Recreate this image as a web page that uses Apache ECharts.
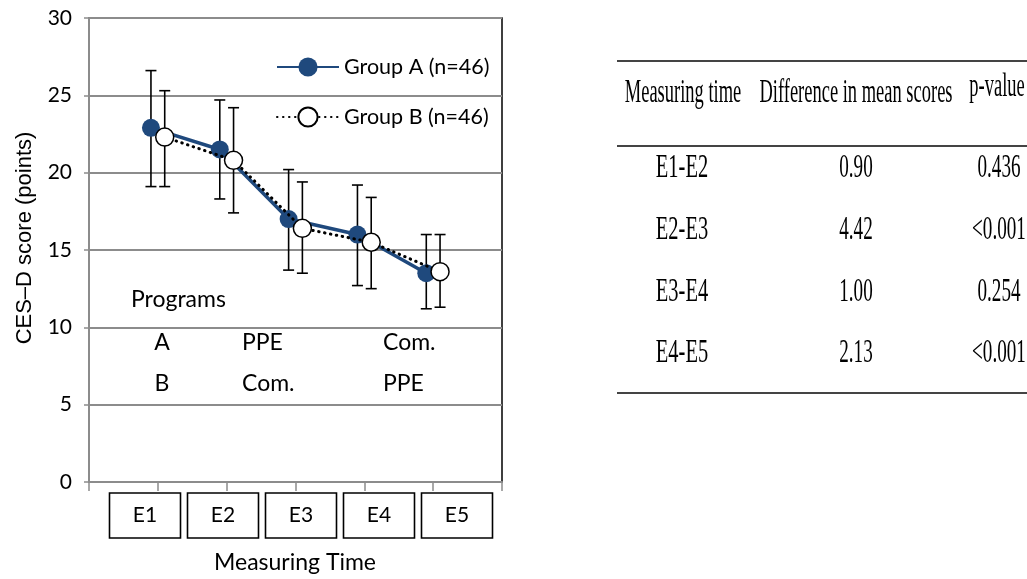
<!DOCTYPE html>
<html>
<head>
<meta charset="utf-8">
<script src="https://cdn.jsdelivr.net/npm/echarts@6/dist/echarts.min.js"></script>
<style>
html,body{margin:0;padding:0;background:#fff;}
#chart{width:1027px;height:579px;}
</style>
</head>
<body>
<div id="chart"></div>
<script>
// ---- Data ----
var categories = ['E1', 'E2', 'E3', 'E4', 'E5'];
var groupAName = 'Group A (n=46)';
var groupBName = 'Group B (n=46)';
var groupAMean = [22.9, 21.5, 17.0, 16.0, 13.5];
var groupALow  = [19.1, 18.3, 13.7, 12.7, 11.2];
var groupAHigh = [26.6, 24.7, 20.2, 19.2, 16.0];
var groupBMean = [22.3, 20.8, 16.4, 15.5, 13.6];
var groupBLow  = [19.1, 17.4, 13.5, 12.5, 11.3];
var groupBHigh = [25.3, 24.2, 19.4, 18.4, 16.0];
var yTicks = [0, 5, 10, 15, 20, 25, 30];
var yAxisName = 'CES\u2013D score (points)';
var xAxisName = 'Measuring Time';
var programsTitle = 'Programs';
var programRowA = ['A', 'PPE', 'Com.'];
var programRowB = ['B', 'Com.', 'PPE'];
var tableHeaders = ['Measuring time', 'Difference in mean scores', 'p-value'];
var tablePairs = ['E1-E2', 'E2-E3', 'E3-E4', 'E4-E5'];
var tableDiffs = ['0.90', '4.42', '1.00', '2.13'];
var tablePValues = ['0.436', '<0.001', '0.254', '<0.001'];

// ---- Build ----
var OFF = 0.1;
function pts(means, off) {
  return means.map(function (v, i) { return [i + 1 + off, v]; });
}
function bars(lo, hi, off) {
  return lo.map(function (v, i) { return [i + 1 + off, v, hi[i]]; });
}
function errRender(params, api) {
  var x = api.value(0);
  var lo = api.coord([x, api.value(1)]);
  var hi = api.coord([x, api.value(2)]);
  var cw = 5.5;
  var st = { stroke: '#000', lineWidth: 1.6 };
  return {
    type: 'group',
    children: [
      { type: 'line', shape: { x1: lo[0], y1: lo[1], x2: hi[0], y2: hi[1] }, style: st },
      { type: 'line', shape: { x1: hi[0] - cw, y1: hi[1], x2: hi[0] + cw, y2: hi[1] }, style: st },
      { type: 'line', shape: { x1: lo[0] - cw, y1: lo[1], x2: lo[0] + cw, y2: lo[1] }, style: st }
    ]
  };
}

var FONT = 'Lato';
var SERIF = 'Liberation Serif';
var graphics = [];

// Axis names
graphics.push({ type: 'text', x: 25, y: 238, rotation: Math.PI / 2,
  style: { text: yAxisName, font: '22px "Liberation Sans"', fill: '#000', textAlign: 'center', textVerticalAlign: 'middle' } });
graphics.push({ type: 'text', x: 295, y: 563,
  style: { text: xAxisName, font: '23px ' + FONT, fill: '#000', textAlign: 'center', textVerticalAlign: 'middle' } });

// Programs annotation
graphics.push({ type: 'text', x: 131, y: 300, style: { text: programsTitle, font: '23px ' + FONT, fill: '#000', textAlign: 'left', textVerticalAlign: 'middle' } });
var progX = [162, 242, 383];
programRowA.forEach(function (t, i) {
  graphics.push({ type: 'text', x: progX[i], y: 343, style: { text: t, font: '23px ' + FONT, fill: '#000', textAlign: i === 0 ? 'center' : 'left', textVerticalAlign: 'middle' } });
});
programRowB.forEach(function (t, i) {
  graphics.push({ type: 'text', x: progX[i], y: 384, style: { text: t, font: '23px ' + FONT, fill: '#000', textAlign: i === 0 ? 'center' : 'left', textVerticalAlign: 'middle' } });
});

// Table
var tColX = [682, 856, 999];
function tText(str, x, y, sx) {
  return { type: 'text', x: x, y: y, scaleX: sx || 0.6, scaleY: 1.05,
    style: { text: str, font: '33px ' + SERIF, fill: '#000', textAlign: 'center', textVerticalAlign: 'middle' } };
}
graphics.push({ type: 'line', shape: { x1: 617, y1: 61, x2: 1027, y2: 61 }, style: { stroke: '#444', lineWidth: 2.2 } });
graphics.push({ type: 'line', shape: { x1: 617, y1: 146, x2: 1027, y2: 146 }, style: { stroke: '#444', lineWidth: 2.2 } });
graphics.push({ type: 'line', shape: { x1: 617, y1: 393, x2: 1027, y2: 393 }, style: { stroke: '#444', lineWidth: 2.2 } });
graphics.push(tText(tableHeaders[0], 683, 93, 0.56));
graphics.push(tText(tableHeaders[1], 856, 93, 0.56));
graphics.push(tText(tableHeaders[2], 997, 87, 0.56));
var rowY = [168, 230, 292, 353];
tablePairs.forEach(function (p, i) {
  graphics.push(tText(p, tColX[0], rowY[i], 0.62));
  graphics.push(tText(tableDiffs[i], tColX[1], rowY[i], 0.58));
  graphics.push(tText(tablePValues[i], tColX[2], rowY[i], 0.58));
});

var chart = echarts.init(document.getElementById('chart'), null, { renderer: 'canvas' });
chart.setOption({
  animation: false,
  backgroundColor: '#fff',
  grid: [
    { left: 89, top: 18, right: 525, bottom: 97, show: true, borderColor: '#000', borderWidth: 1.5, backgroundColor: 'transparent' },
    { left: 106, width: 390, top: 482, height: 1, show: false }
  ],
  legend: {
    data: [groupAName, groupBName],
    orient: 'vertical',
    left: 276, top: 56, padding: 0,
    itemWidth: 62, itemHeight: 24, itemGap: 28,
    textStyle: { fontFamily: FONT, fontSize: 21.5, color: '#000' },
    selectedMode: false
  },
  xAxis: [
    { type: 'value', gridIndex: 0, min: 0, max: 6, interval: 1,
      axisLine: { show: true, lineStyle: { color: '#8c8c8c', width: 2 } },
      axisTick: { show: true, length: 9, lineStyle: { color: '#8c8c8c', width: 1.5 } },
      axisLabel: { show: false }, splitLine: { show: false } },
    { type: 'category', gridIndex: 1, data: categories, boundaryGap: true,
      axisLine: { show: false }, axisTick: { show: false },
      axisLabel: { interval: 0, margin: 10, formatter: function (v) { return '{b|' + v + '}'; },
        rich: { b: { width: 71, height: 45, lineHeight: 45, align: 'center', verticalAlign: 'middle',
          borderColor: '#000', borderWidth: 1.6, fontFamily: FONT, fontSize: 21, color: '#000' } } } }
  ],
  yAxis: [
    { type: 'value', gridIndex: 0, min: yTicks[0], max: yTicks[yTicks.length - 1], interval: 5,
      axisLine: { show: true, lineStyle: { color: '#8c8c8c', width: 2 } },
      axisTick: { show: true, length: 5, lineStyle: { color: '#8c8c8c', width: 1.5 } },
      axisLabel: { margin: 17, fontFamily: FONT, fontSize: 21, color: '#000' },
      splitLine: { show: true, lineStyle: { color: '#8c8c8c', width: 2 } } },
    { type: 'value', gridIndex: 1, show: false }
  ],
  graphic: graphics,
  series: [
    { name: 'errA', type: 'custom', xAxisIndex: 0, yAxisIndex: 0, renderItem: errRender, data: bars(groupALow, groupAHigh, -OFF), z: 1, silent: true },
    { name: 'errB', type: 'custom', xAxisIndex: 0, yAxisIndex: 0, renderItem: errRender, data: bars(groupBLow, groupBHigh, OFF), z: 1, silent: true },
    { name: groupAName, type: 'line', xAxisIndex: 0, yAxisIndex: 0, data: pts(groupAMean, -OFF),
      symbol: 'circle', symbolSize: 18, z: 3,
      lineStyle: { color: '#1f497d', width: 3.5 },
      itemStyle: { color: '#1f497d', borderColor: '#1f497d', borderWidth: 0 } },
    { name: groupBName, type: 'line', xAxisIndex: 0, yAxisIndex: 0, data: pts(groupBMean, OFF),
      symbol: 'circle', symbolSize: 18, z: 4,
      lineStyle: { color: '#000', width: 3, type: [0.5, 5.5], cap: 'round' },
      itemStyle: { color: '#fff', borderColor: '#000', borderWidth: 1.5 } }
  ]
});
</script>
</body>
</html>
